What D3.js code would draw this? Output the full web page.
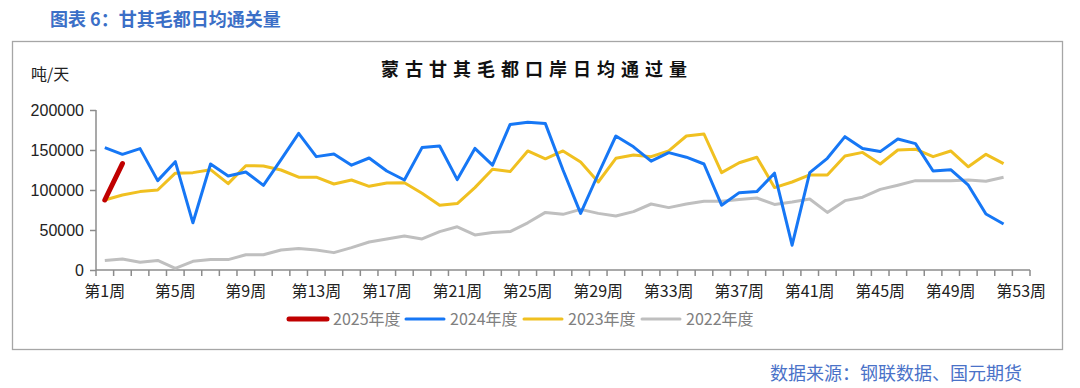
<!DOCTYPE html>
<html lang="zh">
<head>
<meta charset="UTF-8">
<title>甘其毛都日均通关量</title>
<style>
  body { margin: 0; background: #fff; }
  svg { display: block; font-family: "Liberation Sans", Arial, sans-serif; }
</style>
</head>
<body>
<script src="https://d3js.org/d3.v7.min.js"></script>
<script>
// weeks 1..53
const weeks = d3.range(1, 54).map(d => "第" + d + "周");
const tickWeeks = [1, 5, 9, 13, 17, 21, 25, 29, 33, 37, 41, 45, 49, 53];
const yTicks = [0, 50000, 100000, 150000, 200000];

// values in tonnes/day
const y2025 = [87500, 133000];
const y2024 = [153000, 144600, 151700, 111700, 135400, 59000, 132500, 117500, 122500, 105800,
  138000, 170800, 141700, 145000, 131000, 140000, 123800, 112500, 153000, 155000,
  113000, 152000, 131000, 182000, 184600, 183000, 125000, 70800, 120000, 167500,
  154000, 136000, 146700, 141000, 132500, 81000, 96700, 98000, 121000, 31000,
  121700, 139600, 166700, 152000, 148000, 163800, 158000, 123800, 125400, 106000,
  70000, 57500];
const y2023 = [87500, 93800, 98000, 100000, 121000, 121700, 125400, 108000, 130400, 130000,
  125000, 116000, 116000, 107500, 112500, 104600, 108800, 109000, 96000, 81000,
  83000, 103000, 126000, 123000, 148800, 139000, 148800, 135000, 110000, 139600,
  143800, 141700, 149000, 167500, 170000, 121700, 134000, 141000, 103000, 110000,
  118800, 118800, 142500, 147000, 132500, 150000, 151000, 141700, 148800, 129000,
  144600, 133000];
const y2022 = [12000, 13800, 9600, 12000, 2000, 10800, 13000, 13000, 19000, 19000,
  25000, 27000, 25000, 21700, 28000, 35000, 38800, 42500, 38800, 48000,
  54000, 43800, 47000, 48000, 59000, 72000, 69600, 75800, 70800, 67500,
  73000, 82500, 78000, 82500, 86000, 86000, 88000, 90000, 82000, 85000,
  88800, 72000, 86700, 91000, 100800, 106000, 111700, 111700, 111700, 112500,
  111000, 116000];

const seriesNames = ["2025年度", "2024年度", "2023年度", "2022年度"];
const seriesColors = ["#c00000", "#1677f5", "#f0c020", "#bfbfbf"];
const seriesData = [y2025, y2024, y2023, y2022];
const seriesWidths = [5, 3, 3, 3];

const W = 1080, H = 388;
const cjk = "'Noto Sans CJK SC', sans-serif";
const svg = d3.select("body").append("svg")
  .attr("width", W).attr("height", H);

// header title
svg.append("text")
  .attr("x", 50).attr("y", 26)
  .attr("font-family", cjk)
  .attr("font-size", 18).attr("font-weight", "bold")
  .attr("fill", "#3b6fc7")
  .text("图表 6：甘其毛都日均通关量");

// frame
svg.append("rect")
  .attr("x", 12.5).attr("y", 41.5)
  .attr("width", 1050).attr("height", 308)
  .attr("fill", "none").attr("stroke", "#a6a6a6").attr("stroke-width", 1.3);

// source
svg.append("text")
  .attr("x", 1022).attr("y", 380)
  .attr("text-anchor", "end")
  .attr("font-family", cjk)
  .attr("font-size", 18)
  .attr("fill", "#4a72c8")
  .text("数据来源：钢联数据、国元期货");

// chart title
svg.append("text")
  .attr("x", 537).attr("y", 76)
  .attr("text-anchor", "middle")
  .attr("font-family", cjk)
  .attr("font-size", 18).attr("font-weight", "bold")
  .attr("letter-spacing", 6)
  .attr("fill", "#111")
  .text("蒙古甘其毛都口岸日均通过量");

svg.append("text")
  .attr("x", 31).attr("y", 80)
  .attr("font-family", cjk)
  .attr("font-size", 16)
  .attr("fill", "#222")
  .text("吨/天");

const x = d3.scaleBand().domain(weeks).range([96, 1030]);
const y = d3.scaleLinear().domain([0, 200000]).range([270, 110]);

// y axis
const yAxis = svg.append("g")
  .attr("transform", "translate(96,0)")
  .call(d3.axisLeft(y).tickValues(yTicks).tickSize(6).tickPadding(6).tickFormat(d3.format("d")));
yAxis.selectAll("text").attr("font-size", 16).attr("fill", "#222")
  .attr("font-family", "'Liberation Sans', Arial, sans-serif");
yAxis.selectAll("path, line").attr("stroke", "#8c8c8c").attr("stroke-width", 1.5);
yAxis.select(".domain").attr("d", "M0,110V270");

// x axis with ticks at band boundaries
const xg = svg.append("g").attr("transform", "translate(0,270)");
xg.append("line").attr("x1", 96).attr("x2", 1030)
  .attr("stroke", "#8c8c8c").attr("stroke-width", 1.5);
const bounds = weeks.map(w => x(w)).concat([x.range()[1]]);
xg.selectAll("line.tk").data(bounds).join("line")
  .attr("class", "tk")
  .attr("x1", d => d).attr("x2", d => d)
  .attr("y1", 0).attr("y2", 6)
  .attr("stroke", "#8c8c8c").attr("stroke-width", 1.5);
xg.selectAll("text").data(tickWeeks).join("text")
  .attr("x", d => x(weeks[d - 1]) + x.bandwidth() / 2)
  .attr("y", 27)
  .attr("text-anchor", "middle")
  .attr("font-size", 16)
  .attr("fill", "#222")
  .attr("font-family", cjk)
  .text(d => weeks[d - 1]);

// lines
const line = d3.line()
  .x((d, i) => x(weeks[i]) + x.bandwidth() / 2)
  .y(d => y(d));

const order = [3, 2, 1, 0];
order.forEach(k => {
  svg.append("path")
    .datum(seriesData[k])
    .attr("d", line)
    .attr("fill", "none")
    .attr("stroke", seriesColors[k])
    .attr("stroke-width", seriesWidths[k])
    .attr("stroke-linejoin", "round")
    .attr("stroke-linecap", k === 0 ? "round" : "butt");
});

// legend
const legX = [289, 406, 524, 642];
const leg = svg.append("g");
seriesNames.forEach((n, k) => {
  leg.append("line")
    .attr("x1", legX[k]).attr("x2", legX[k] + 38)
    .attr("y1", 319).attr("y2", 319)
    .attr("stroke", seriesColors[k])
    .attr("stroke-width", k === 0 ? 5 : 3)
    .attr("stroke-linecap", "round");
  leg.append("text")
    .attr("x", legX[k] + 44).attr("y", 325)
    .attr("font-size", 16)
    .attr("fill", "#808080")
    .attr("font-family", cjk)
    .text(n);
});
</script>
</body>
</html>
